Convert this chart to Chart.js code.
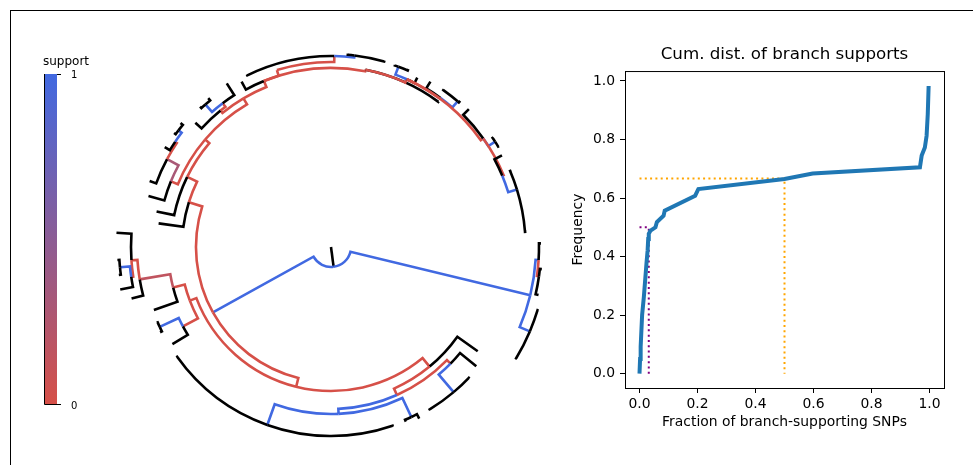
<!DOCTYPE html>
<html>
<head>
<meta charset="utf-8">
<script src="https://cdn.jsdelivr.net/npm/chart.js@4.4.0/dist/chart.umd.min.js"></script>
<style>
    html, body { margin: 0; padding: 0; background: #fff; }
    body { width: 973px; height: 465px; position: relative; overflow: hidden; }
    .frame {
        position: absolute; left: 10px; top: 10px; width: 963px; height: 455px;
        border-left: 1px solid #000; border-top: 1px solid #000;
    }
    #tree { position: absolute; left: 0; top: 0; }
    #cdf { position: absolute; left: 560px; top: 36px; }
</style>
</head>
<body>
<div class="frame"></div>
<canvas id="tree" width="560" height="465"></canvas>
<canvas id="cdf" width="449" height="424"></canvas>
<script>
"use strict";

/**
 * Arbol circular: [padre, angulo (grados, horario desde el este), radio, soporte]
 * soporte null = hoja (rama negra)
 */
const treeNodes = [
    [-1, 82.5, 20, null],     // 0 raiz
    [0, 151, 135, 1],         // 1
    [0, 13.6, 205, 1],        // 2
    [1, 104, 144, 0],         // 3
    [3, 50.5, 155, 0],        // 4
    [4, 35.4, 180, null],     // 5
    [4, 66, 162, 0],          // 6
    [6, 87.4, 167, 1],        // 7
    [7, 109.7, 189, 1],       // 8
    [8, 144.5, 190, null],    // 9
    [8, 71, 190, null],       // 10
    [7, 64.7, 188, 1],        // 11
    [11, 66.8, 190, null],    // 12
    [11, 62.8, 193, null],    // 13
    [6, 44.3, 167, 0],        // 14
    [14, 49.8, 190, 1],       // 15
    [15, 58.7, 191, null],    // 16
    [15, 43.5, 191, null],    // 17
    [14, 39.4, 188, null],    // 18
    [3, 159.2, 151, 0],       // 19
    [19, 151.8, 168, 0],      // 20
    [20, 155, 189, 1],        // 21
    [21, 156.5, 190, null],   // 22
    [21, 153.5, 191, null],   // 23
    [20, 148.5, 186, null],   // 24
    [19, 165.6, 163, 0],      // 25
    [25, 160.4, 188, null],   // 26
    [25, 170.4, 194, 0.15],   // 27
    [27, 165.5, 206, null],   // 28
    [27, 176.2, 200, 0],      // 29
    [29, 183.8, 215, null],   // 30
    [29, 171.5, 202, 0],      // 31
    [31, 174.5, 212, 1],      // 32
    [32, 176.5, 214, null],   // 33
    [32, 172.5, 214, null],   // 34
    [31, 168.6, 215, null],   // 35
    [1, 197.5, 149, 0],       // 36
    [36, 187.8, 174, null],   // 37
    [36, 206, 160, 0],        // 38
    [38, 191.5, 178, null],   // 39
    [38, 220.5, 165.5, 0],    // 40
    [40, 202.3, 173, 0],      // 41
    [41, 195.6, 189.5, null], // 42
    [41, 208.2, 186, 0.3],    // 43
    [43, 200, 193, null],     // 44
    [43, 214, 188, 0],        // 45
    [45, 217.4, 192, 1],      // 46
    [46, 216, 194, null],     // 47
    [46, 219.5, 195, null],   // 48
    [45, 211, 194, null],     // 49
    [40, 239.5, 172.5, 0],    // 50
    [50, 231, 175.5, 0],      // 51
    [51, 222.5, 184, null],   // 52
    [51, 233, 180, 0],        // 53
    [53, 228.6, 190, 1],      // 54
    [54, 227, 192, null],     // 55
    [54, 230.5, 193, null],   // 56
    [53, 237.5, 194, null],   // 57
    [50, 248, 179, 0],        // 58
    [58, 241.6, 188, null],   // 59
    [58, 253, 185, 0],        // 60
    [60, 271, 191, 0],        // 61
    [61, 244, 192, null],     // 62
    [61, 277, 193, 1],        // 63
    [63, 275, 194, null],     // 64
    [63, 286, 194, null],     // 65
    [58, 281, 180.5, 0],      // 66
    [66, 306.5, 181, null],   // 67
    [66, 294.3, 184, 0],      // 68
    [68, 290.5, 192.5, 1],    // 69
    [69, 289.4, 193, null],   // 70
    [69, 293.5, 194, null],   // 71
    [68, 297, 190, null],     // 72
    [68, 306.2, 185, 0],      // 73
    [73, 311, 193, 1],        // 74
    [74, 305.6, 194, null],   // 75
    [74, 311.5, 195, null],   // 76
    [73, 301, 193, null],     // 77
    [68, 324.5, 187, 0],      // 78
    [78, 315, 195, null],     // 79
    [78, 327.3, 195, 1],      // 80
    [80, 326, 196, null],     // 81
    [80, 329, 196, null],     // 82
    [78, 337.4, 185.5, 0],    // 83
    [83, 331.8, 194, null],   // 84
    [83, 342.8, 194.6, 1],    // 85
    [85, 337, 196, null],     // 86
    [85, 355.5, 196, null],   // 87
    [2, 23, 216, 1],          // 88
    [88, 31, 217, null],      // 89
    [88, 17, 217, null],      // 90
    [2, 3.6, 208, 1],         // 91
    [91, -1, 210, null],      // 92
    [91, 8, 210, 0],          // 93
    [93, 6, 212, null],       // 94
    [93, 13, 213, null],      // 95
];

/**
 * Distribucion acumulada de soportes
 */
const supportFraction = [
    0, 0.002, 0.004, 0.009, 0.015, 0.024, 0.028, 0.03, 0.032, 0.038, 0.055,
    0.06, 0.083, 0.087, 0.192, 0.203, 0.5, 0.597, 0.967, 0.973, 0.984, 0.99,
    0.994, 0.997,
];
const cumFrequency = [
    0, 0.05, 0.092, 0.2, 0.262, 0.376, 0.421, 0.46, 0.478, 0.489, 0.5,
    0.518, 0.54, 0.557, 0.608, 0.631, 0.665, 0.684, 0.705, 0.745, 0.773, 0.813,
    0.887, 0.983,
];
const halfSupportX = [0, 0.5, 0.5];
const halfSupportY = [0.667, 0.667, 0];
const halfFreqX = [0, 0.032, 0.032];
const halfFreqY = [0.5, 0.5, 0];
const axisTicks = [0, 0.2, 0.4, 0.6, 0.8, 1.0];

const supportRed = [214, 80, 72];
const supportBlue = [65, 105, 225];

function supportColor(s) {
    if (s === null) return "#000";
    const c = supportRed.map((v, k) => Math.round(v + (supportBlue[k] - v) * s));
    return `rgb(${c[0]}, ${c[1]}, ${c[2]})`;
}

const rad = (d) => (d * Math.PI) / 180;

/**
 * Dibujo del arbol: arco en el radio del padre + segmento radial
 */
const treePlugin = {
    id: "circularTree",
    afterDatasetsDraw(chart) {
        const ctx = chart.ctx;
        const xs = chart.scales.x;
        const ys = chart.scales.y;
        const cx = xs.getPixelForValue(0);
        const cy = ys.getPixelForValue(0);
        const pt = (a, r) => [
            xs.getPixelForValue(r * Math.cos(rad(a))),
            ys.getPixelForValue(r * Math.sin(rad(a))),
        ];
        const rpx = (r) => xs.getPixelForValue(r) - cx;

        ctx.save();
        ctx.lineWidth = 2.6;
        ctx.lineCap = "butt";
        ctx.lineJoin = "miter";

        treeNodes.forEach(([parent, angle, radius, support]) => {
            ctx.beginPath();
            if (parent < 0) {
                ctx.moveTo(...pt(angle, 0));
                ctx.lineTo(...pt(angle, radius));
                ctx.strokeStyle = "#000";
                ctx.stroke();
                return;
            }
            const pa = treeNodes[parent][1];
            const pr = treeNodes[parent][2];
            ctx.moveTo(...pt(pa, pr));
            ctx.arc(cx, cy, rpx(pr), rad(pa), rad(angle), angle < pa);
            ctx.lineTo(...pt(angle, radius));
            ctx.strokeStyle = supportColor(support);
            ctx.stroke();
        });

        /**
         * Barra de color del soporte
         */
        const bx = 44, bw = 13, top = 74, bottom = 404;
        const grad = ctx.createLinearGradient(0, bottom, 0, top);
        grad.addColorStop(0, supportColor(0));
        grad.addColorStop(1, supportColor(1));
        ctx.fillStyle = grad;
        ctx.fillRect(bx, top, bw, bottom - top);

        ctx.lineWidth = 1;
        ctx.strokeStyle = "#000";
        ctx.beginPath();
        ctx.moveTo(bx + 0.5, top);
        ctx.lineTo(bx + 0.5, bottom + 0.5);
        ctx.lineTo(bx + bw + 4, bottom + 0.5);
        ctx.moveTo(bx + bw, top + 0.5);
        ctx.lineTo(bx + bw + 4, top + 0.5);
        ctx.stroke();

        ctx.fillStyle = "#000";
        ctx.font = "12px 'DejaVu Sans'";
        ctx.textBaseline = "middle";
        ctx.textAlign = "left";
        ctx.fillText("support", 43, 62);
        ctx.font = "10px 'DejaVu Sans'";
        ctx.fillText("1", 71, top + 1);
        ctx.fillText("0", 71, bottom + 2);
        ctx.restore();
    },
};

new Chart(document.getElementById("tree"), {
    type: "scatter",
    data: {
        datasets: [
            {
                data: treeNodes.map(([, a, r]) => ({
                    x: r * Math.cos(rad(a)),
                    y: r * Math.sin(rad(a)),
                })),
                pointRadius: 0,
            },
        ],
    },
    options: {
        responsive: false,
        animation: false,
        layout: { padding: 0 },
        plugins: { legend: { display: false }, tooltip: { enabled: false } },
        scales: {
            x: { type: "linear", display: false, min: -331, max: 229 },
            y: { type: "linear", display: false, min: -247, max: 218, reverse: true },
        },
    },
    plugins: [treePlugin],
});

/**
 * Grafica de la distribucion acumulada
 */
const tickFont = { family: "'DejaVu Sans'", size: 13.9 };

const boxPlugin = {
    id: "axesBox",
    afterDraw(chart) {
        const { left, top, right, bottom } = chart.chartArea;
        const ctx = chart.ctx;
        ctx.save();
        ctx.strokeStyle = "#000";
        ctx.lineWidth = 1;
        ctx.strokeRect(left + 0.5, top + 0.5, right - left, bottom - top);
        ctx.restore();
    },
};

new Chart(document.getElementById("cdf"), {
    type: "scatter",
    data: {
        datasets: [
            {
                data: supportFraction.map((x, i) => ({ x, y: cumFrequency[i] })),
                showLine: true,
                borderColor: "#1f77b4",
                borderWidth: 4,
                pointRadius: 0,
            },
            {
                data: halfSupportX.map((x, i) => ({ x, y: halfSupportY[i] })),
                showLine: true,
                borderColor: "#FFA500",
                borderWidth: 2,
                borderDash: [2, 3.3],
                pointRadius: 0,
            },
            {
                data: halfFreqX.map((x, i) => ({ x, y: halfFreqY[i] })),
                showLine: true,
                borderColor: "#800080",
                borderWidth: 2,
                borderDash: [2, 3.3],
                pointRadius: 0,
            },
        ],
    },
    options: {
        responsive: false,
        animation: false,
        layout: { padding: 0 },
        plugins: {
            legend: { display: false },
            tooltip: { enabled: false },
            title: {
                display: true,
                text: "Cum. dist. of branch supports",
                color: "#000",
                font: { family: "'DejaVu Sans'", size: 16.7, weight: "normal" },
                padding: { top: 9, bottom: 6 },
            },
        },
        scales: {
            x: {
                type: "linear",
                min: -0.05,
                max: 1.05,
                afterBuildTicks: (s) => {
                    s.ticks = axisTicks.map((v) => ({ value: v }));
                },
                afterFit: (s) => {
                    s.height = 72;
                },
                ticks: {
                    color: "#000",
                    font: tickFont,
                    padding: 3,
                    maxRotation: 0,
                    callback: (v) => Number(v).toFixed(1),
                },
                grid: { drawOnChartArea: false, tickLength: 5, color: "#000" },
                border: { color: "#000" },
                title: {
                    display: true,
                    text: "Fraction of branch-supporting SNPs",
                    color: "#000",
                    font: tickFont,
                    padding: { top: 0, bottom: 29 },
                },
            },
            y: {
                type: "linear",
                min: -0.049,
                max: 1.034,
                afterBuildTicks: (s) => {
                    s.ticks = axisTicks.map((v) => ({ value: v }));
                },
                afterFit: (s) => {
                    s.width = 65;
                },
                ticks: {
                    color: "#000",
                    font: tickFont,
                    padding: 5,
                    callback: (v) => Number(v).toFixed(1),
                },
                grid: { drawOnChartArea: false, tickLength: 5, color: "#000" },
                border: { color: "#000" },
                title: {
                    display: true,
                    text: "Frequency",
                    color: "#000",
                    font: tickFont,
                    padding: { top: 10, bottom: 0 },
                },
            },
            // eje vacio a la derecha para centrar el titulo sobre el area
            yRight: {
                type: "linear",
                position: "right",
                min: 0,
                max: 1,
                afterFit: (s) => {
                    s.width = 65;
                },
                ticks: { display: false },
                grid: { display: false },
                border: { display: false },
            },
        },
    },
    plugins: [boxPlugin],
});
</script>
</body>
</html>
